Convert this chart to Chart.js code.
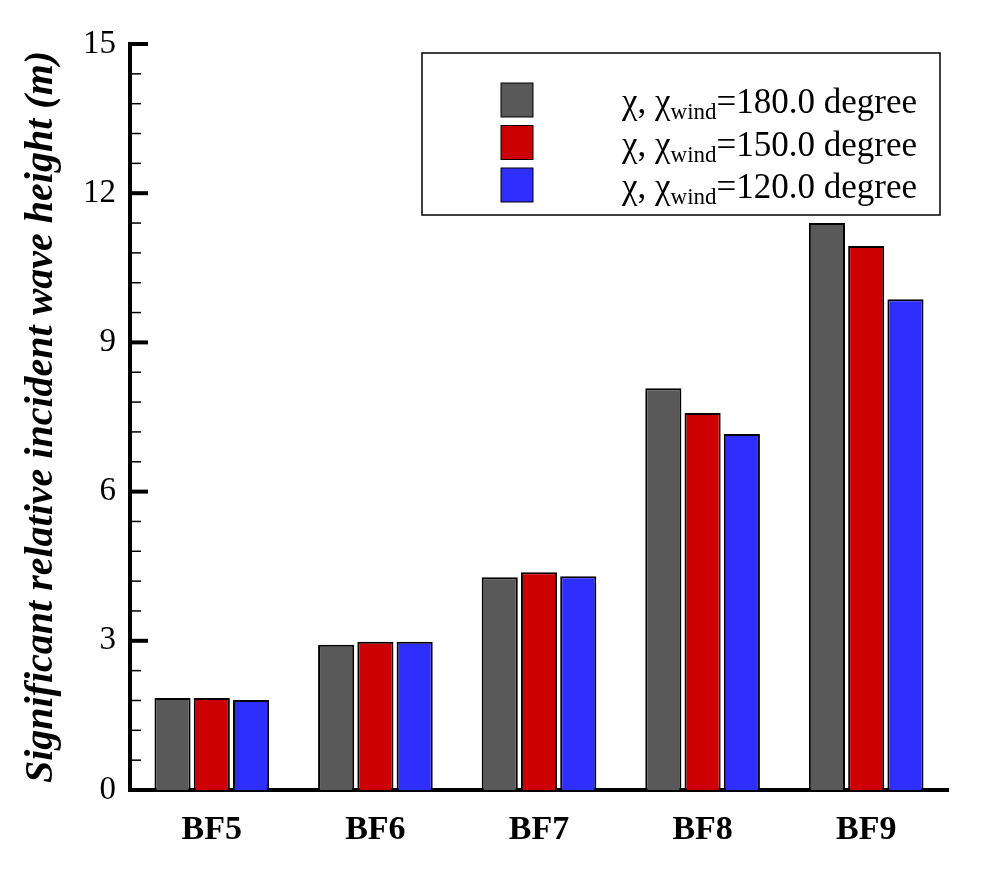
<!DOCTYPE html>
<html>
<head>
  <title>Significant relative incident wave height</title>
  <script src="https://cdn.jsdelivr.net/npm/chart.js"></script>
  <style>
    body { margin: 0; background: #fff; }
    #wrap { width: 1000px; height: 889px; }
  </style>
</head>
<body>
  <div id="wrap"><canvas id="waveChart"></canvas></div>

  <script>
    const categories = ["BF5", "BF6", "BF7", "BF8", "BF9"];
    const headings = ["180.0", "150.0", "120.0"];
    const h180 = [1.85, 2.92, 4.28, 8.08, 11.40];
    const h150 = [1.85, 2.98, 4.38, 7.58, 10.94];
    const h120 = [1.81, 2.98, 4.30, 7.16, 9.87];
    const colors = ["#595959", "#cc0000", "#2e2eff"];

    const serif = "'Liberation Serif', 'Times New Roman', serif";

    // inward minor/major ticks on the y axis
    const yTicks = {
      id: "yTicks",
      afterDraw(chart) {
        const ctx = chart.ctx;
        const y = chart.scales.y;
        const left = chart.chartArea.left;
        ctx.save();
        ctx.strokeStyle = "#000";
        for (let i = 0; i <= 25; i++) {
          const major = i % 5 === 0;
          const py = y.getPixelForValue(i * 0.6);
          ctx.lineWidth = major ? 4 : 1.5;
          ctx.beginPath();
          ctx.moveTo(left, py);
          ctx.lineTo(left + (major ? 18 : 11), py);
          ctx.stroke();
        }
        ctx.restore();
      }
    };

    // legend with subscript text
    const boxLegend = {
      id: "boxLegend",
      afterDraw(chart) {
        const ctx = chart.ctx;
        const a = chart.chartArea;
        const x0 = a.right - 526, y0 = a.top + 9, w = 518, h = 162;
        ctx.save();
        ctx.fillStyle = "#fff";
        ctx.fillRect(x0, y0, w, h);
        ctx.strokeStyle = "#000";
        ctx.lineWidth = 1.5;
        ctx.strokeRect(x0, y0, w, h);
        chart.data.datasets.forEach((ds, i) => {
          const cy = y0 + 47 + i * 42.5;
          ctx.fillStyle = ds.backgroundColor;
          ctx.fillRect(x0 + 79, cy - 17, 32, 34);
          ctx.lineWidth = 1;
          ctx.strokeRect(x0 + 79, cy - 17, 32, 34);
          ctx.fillStyle = "#000";
          ctx.textBaseline = "alphabetic";
          let tx = x0 + 200;
          const base = cy + 13;
          ctx.font = "35px " + serif;
          ctx.fillText("\u03c7, \u03c7", tx, base);
          tx += ctx.measureText("\u03c7, \u03c7").width;
          ctx.font = "23px " + serif;
          ctx.fillText("wind", tx, base + 6);
          tx += ctx.measureText("wind").width;
          ctx.font = "35px " + serif;
          ctx.fillText("=" + headings[i] + " degree", tx, base);
        });
        ctx.restore();
      }
    };

    const ctx = document.getElementById("waveChart").getContext("2d");
    new Chart(ctx, {
      type: "bar",
      data: {
        labels: categories,
        datasets: [h180, h150, h120].map((d, i) => ({
          label: "\u03c7, \u03c7wind=" + headings[i] + " degree",
          data: d,
          backgroundColor: colors[i],
          borderColor: "#000",
          borderWidth: 2,
          categoryPercentage: 0.72,
          barPercentage: 0.92
        }))
      },
      options: {
        responsive: true,
        maintainAspectRatio: false,
        animation: false,
        layout: { padding: { top: 44, right: 52, left: 0, bottom: 0 } },
        plugins: {
          legend: { display: false },
          tooltip: { enabled: false }
        },
        scales: {
          x: {
            grid: { display: false },
            border: { display: true, width: 4, color: "#000" },
            ticks: { color: "#000", padding: 12, font: { family: serif, size: 34, weight: "bold" } },
            afterFit(s) { s.height = 99; }
          },
          y: {
            min: 0,
            max: 15,
            grid: { display: false },
            border: { display: true, width: 4, color: "#000" },
            ticks: { stepSize: 3, color: "#000", padding: 6, font: { family: serif, size: 33 } },
            title: {
              display: true,
              text: "Significant relative incident wave height (m)",
              color: "#000",
              padding: { top: 18, bottom: 4 },
              font: { family: serif, size: 40, weight: "bold", style: "italic" }
            },
            afterFit(s) { s.width = 130; }
          }
        }
      },
      plugins: [yTicks, boxLegend]
    });
  </script>
</body>
</html>
